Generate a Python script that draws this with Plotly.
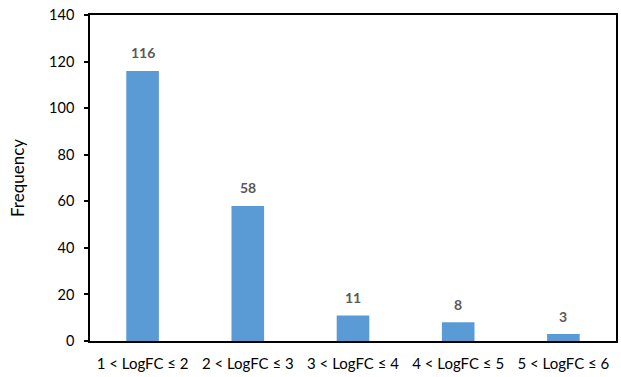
import plotly.graph_objects as go

# Distribution of genes by log fold-change bin
categories = ["1 < LogFC ≤ 2", "2 < LogFC ≤ 3", "3 < LogFC ≤ 4", "4 < LogFC ≤ 5", "5 < LogFC ≤ 6"]
frequency = [116, 58, 11, 8, 3]
y_ticks = [0, 20, 40, 60, 80, 100, 120, 140]

font_family = "Lato, Carlito, Calibri, sans-serif"

fig = go.Figure(
    go.Bar(
        x=categories,
        y=frequency,
        width=0.31,
        marker=dict(color="#5B9BD5", line=dict(width=0)),
    )
)

# Value labels above each bar
for cat, val in zip(categories, frequency):
    fig.add_annotation(
        x=cat, y=val, text=f"<b>{val}</b>", showarrow=False,
        yshift=18, font=dict(family=font_family, size=14, color="#595959"),
    )

fig.update_layout(
    width=621, height=377,
    margin=dict(l=90, r=3, t=15, b=36),
    paper_bgcolor="white", plot_bgcolor="white",
    showlegend=False,
    font=dict(family=font_family, size=14, color="#000000"),
)
fig.update_xaxes(
    showline=True, linecolor="#000000", linewidth=1.5, mirror=True,
    ticks="", showgrid=False, ticklabelstandoff=8,
    tickfont=dict(size=15, color="#000000"),
)
fig.update_yaxes(
    range=[0, 140], tickvals=y_ticks,
    showline=True, linecolor="#000000", linewidth=1.5, mirror=True,
    ticks="outside", ticklen=4, tickcolor="#000000", tickwidth=1.5,
    showgrid=False, zeroline=False, ticklabelstandoff=7,
    title=dict(text="Frequency", font=dict(size=17, color="#000000"), standoff=20),
    tickfont=dict(size=14.5, color="#000000"),
)

fig.write_html("out.html")
